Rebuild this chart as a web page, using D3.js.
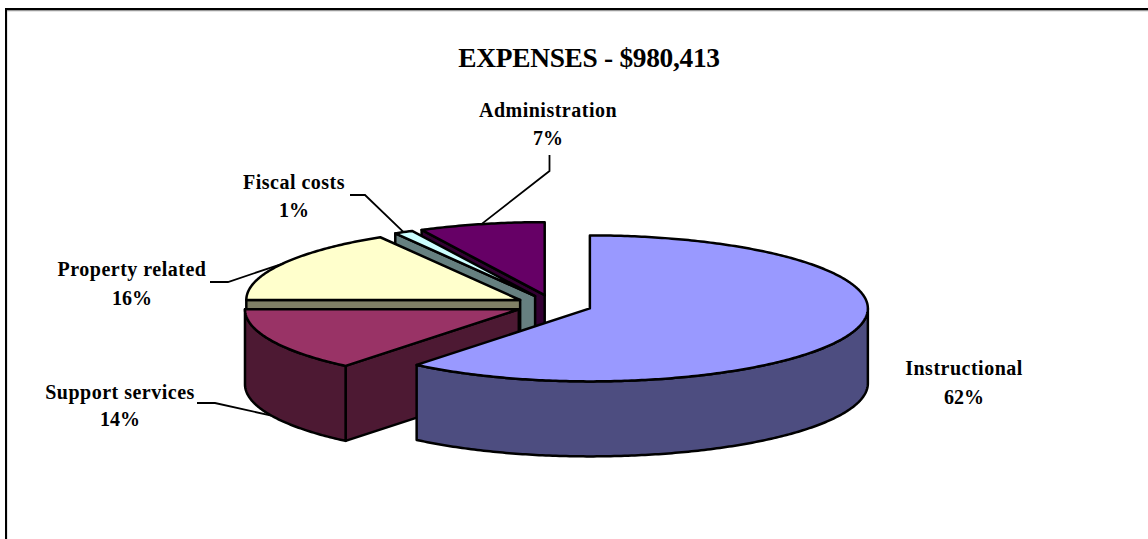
<!DOCTYPE html>
<html>
<head>
<meta charset="utf-8">
<script src="https://cdn.jsdelivr.net/npm/d3@7"></script>
<style>
  html, body { margin: 0; padding: 0; background: #fff; overflow: hidden; }
  svg { display: block; }
  text { font-family: "Liberation Serif", serif; font-weight: bold; fill: #000; }
</style>
</head>
<body>
<svg id="chart" width="1148" height="539"></svg>
<script>
const titleText = "EXPENSES - $980,413";

// clockwise from 12 o'clock, as drawn in the reference
const categories = ["Instructional", "Support services", "Property related", "Fiscal costs", "Administration"];
const percentLabels = ["62%", "14%", "16%", "1%", "7%"];
// shares (they differ a little from the printed labels)
const sliceShares = [60.9, 14.1, 16.47, 1.11, 7.42];
const topColors = ["#9999ff", "#993366", "#ffffcc", "#ccffff", "#660066"];
const sideColors = ["#4d4d80", "#4d1933", "#808066", "#668080", "#330033"];

// label placement: centre x, first baseline, second baseline
const labelX = [964, 120, 132, 294, 548];
const labelY1 = [375, 399, 276, 189, 117];
const labelY2 = [404, 426, 305, 217, 145];
// leader lines run from the label through one elbow to the slice rim (null = no leader)
const leaderStart = [null, [197, 403], [210, 282], [350, 195], [549.5, 155]];
const leaderElbow = [null, [215, 403], [228, 282], [365, 195], [549.5, 171]];

// PIE GEOMETRY
const centerX = 553.6;
const centerY = 305;
const radiusX = 278;
const radiusY = 73;
const depth = 75;
const explode = 38.5;
const leftSquash = 0.985; // the 3D view pulls the far left in a little

const svg = d3.select("#chart");

const pie = d3.pie().sort(null).startAngle(0).endAngle(2 * Math.PI);
const slices = pie(sliceShares).map((d, i) => {
  const mid = (d.startAngle + d.endAngle) / 2;
  return {
    ...d,
    i,
    mid,
    cx: centerX + explode * Math.sin(mid),
    cy: centerY - explode * (radiusY / radiusX) * Math.cos(mid)
  };
});

const rimPoint = (s, a, drop = 0) => {
  const sx = Math.sin(a);
  return [
    s.cx + radiusX * sx * (sx < 0 ? leftSquash : 1),
    s.cy - radiusY * Math.cos(a) + drop
  ];
};

const angleSteps = (a0, a1) => {
  const n = Math.max(2, Math.ceil((a1 - a0) * 80));
  return d3.range(n + 1).map(k => a0 + (a1 - a0) * k / n);
};

const line = d3.line();
const closed = pts => line(pts) + "Z";

function drawPoly(g, pts, fill) {
  g.append("path")
    .attr("d", closed(pts))
    .attr("fill", fill)
    .attr("stroke", "#000")
    .attr("stroke-width", 2.5)
    .attr("stroke-linejoin", "round");
}

function drawRadialWall(g, s, a) {
  const p = rimPoint(s, a);
  drawPoly(g, [[s.cx, s.cy], p, [p[0], p[1] + depth], [s.cx, s.cy + depth]], sideColors[s.i]);
}

// BACK TO FRONT: administration first, instructional last
const drawOrder = [4, 3, 2, 1, 0];
const pieGroup = svg.append("g");

drawOrder.forEach(i => {
  const s = slices[i];
  const g = pieGroup.append("g").attr("class", "slice");

  // only the walls that face the viewer
  if (Math.sin(s.startAngle) < -1e-6) drawRadialWall(g, s, s.startAngle);
  if (Math.sin(s.endAngle) > 1e-6) drawRadialWall(g, s, s.endAngle);

  const wallFrom = Math.max(s.startAngle, Math.PI / 2);
  const wallTo = Math.min(s.endAngle, 1.5 * Math.PI);
  if (wallTo > wallFrom) {
    const steps = angleSteps(wallFrom, wallTo);
    const front = steps.map(a => rimPoint(s, a));
    const back = steps.slice().reverse().map(a => rimPoint(s, a, depth));
    drawPoly(g, front.concat(back), sideColors[i]);
  }

  const rim = angleSteps(s.startAngle, s.endAngle).map(a => rimPoint(s, a));
  drawPoly(g, [[s.cx, s.cy], ...rim], topColors[i]);
});

// LEADER LINES
slices.forEach(s => {
  if (!leaderStart[s.i]) return;
  // the support slice's leader touches the bottom of its wall
  const end = rimPoint(s, s.mid, s.i === 1 ? depth : 0);
  svg.append("path")
    .attr("d", line([leaderStart[s.i], leaderElbow[s.i], end]))
    .attr("fill", "none")
    .attr("stroke", "#000")
    .attr("stroke-width", 1.8);
});

// LABELS
categories.forEach((name, i) => {
  svg.append("text")
    .attr("x", labelX[i]).attr("y", labelY1[i])
    .attr("text-anchor", "middle")
    .attr("font-size", 20)
    .attr("letter-spacing", 0.5)
    .text(name);
  svg.append("text")
    .attr("x", labelX[i]).attr("y", labelY2[i])
    .attr("text-anchor", "middle")
    .attr("font-size", 20)
    .text(percentLabels[i]);
});

svg.append("text")
  .attr("x", 589).attr("y", 67)
  .attr("text-anchor", "middle")
  .attr("font-size", 27.4)
  .attr("letter-spacing", -0.3)
  .text(titleText);

// OUTER FRAME: only top and left show, the rest runs off the crop
const frame = svg.append("g");
frame.append("path").attr("d", "M6.5,539V10.5H1148").attr("fill", "none").attr("stroke", "#999").attr("stroke-width", 1.5);
frame.append("path").attr("d", "M6,539V9H1148").attr("fill", "none").attr("stroke", "#000").attr("stroke-width", 2);
</script>
</body>
</html>
